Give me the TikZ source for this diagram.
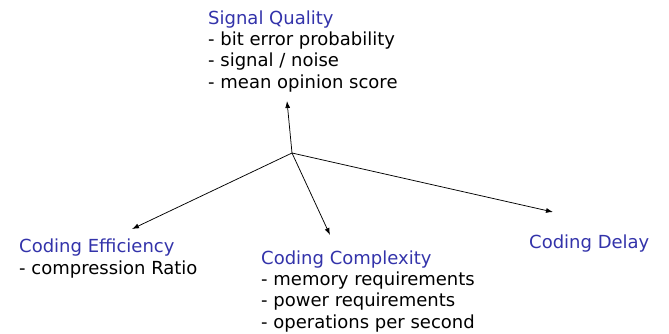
\documentclass[tikz,border=0pt]{standalone}
\usepackage{fontspec}
\setmainfont{DejaVu Sans}
\usetikzlibrary{arrows.meta}
\definecolor{ttl}{RGB}{51,51,170}
\tikzset{
  blk/.style={anchor=base west, inner sep=0pt, align=left, font=\fontsize{18}{21.2}\selectfont},
  arr/.style={line width=0.75pt, -{Latex[length=7pt,width=5pt]}}
}
\begin{document}
\begin{tikzpicture}[x=1pt,y=-1pt]
\useasboundingbox (0,0) rectangle (669,333);
% base anchor of a multi-line node is the baseline of its last line
\node[blk] (sq) at (208,88) {\textcolor{ttl}{Signal Quality}\\- bit error probability\\- signal / noise\\- mean opinion score};
\node[blk] (ce) at (19,274) {\textcolor{ttl}{Coding Efficiency}\\- compression Ratio};
\node[blk] (cc) at (261,328) {\textcolor{ttl}{Coding Complexity}\\- memory requirements\\- power requirements\\- operations per second};
\node[blk] (cd) at (529,248) {\textcolor{ttl}{Coding Delay}};
\coordinate (o) at (292,153);
\coordinate (eq) at (287,101);
\coordinate (ee) at (132,229);
\coordinate (ec) at (330,235);
\coordinate (ed) at (553,212);
\draw[arr] (o) -- (eq);
\draw[arr] (o) -- (ee);
\draw[arr] (o) -- (ec);
\draw[arr] (o) -- (ed);
\end{tikzpicture}
\end{document}
